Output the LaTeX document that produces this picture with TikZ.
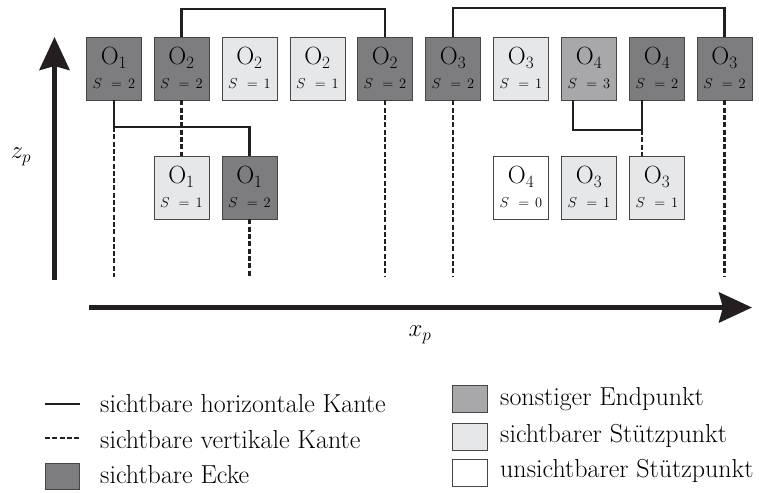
\documentclass[tikz,border=0pt]{standalone}
\usetikzlibrary{arrows.meta,calc}
\definecolor{cdark}{RGB}{125,125,128}
\definecolor{cmid}{RGB}{168,168,170}
\definecolor{clight}{RGB}{230,231,233}
\definecolor{cline}{RGB}{35,31,32}
\definecolor{cborder}{RGB}{70,70,72}
\tikzset{
 obox/.style={draw=cborder, line width=0.9pt, minimum width=55pt, minimum height=63pt, inner sep=0pt},
 dk/.style={obox, fill=cdark},
 md/.style={obox, fill=cmid},
 lt/.style={obox, fill=clight},
 wt/.style={obox, fill=white},
 legbox/.style={draw=cborder, line width=0.9pt, minimum width=35pt, minimum height=27pt, inner sep=0pt},
 hedge/.style={draw=cline, line width=2.6pt},
 vedge/.style={draw=cline, line width=2.6pt, dash pattern=on 5pt off 2.3pt},
 axis/.style={draw=cline, line width=5pt, -{Stealth[length=33pt,width=30pt,inset=4pt]}},
 lbl/.style={font=\fontsize{26}{26}\selectfont, anchor=base west, inner sep=0pt},
 axlbl/.style={font=\fontsize{24}{24}\selectfont, inner sep=0pt},
}
\newcommand{\obj}[2]{\vbox to 63pt{\offinterlineskip
 \vskip 27.5pt
 \hbox to 55pt{\hss\smash{\fontsize{25}{25}\selectfont$\mathrm{O}_{#1}$}\hss}%
 \vskip 24pt
 \hbox to 55pt{\hss\smash{\fontsize{13.5}{14}\selectfont$S$\hspace{9pt}$=$\hspace{6pt}$#2$}\hss}%
 \vss}}
\begin{document}
\begin{tikzpicture}[x=1pt,y=-1pt]
\useasboundingbox (0,0) rectangle (759,492);
% top row
\node[dk] (t1) at (114,68.5) {\obj{1}{2}};
\node[dk] (t2) at (181.5,68.5) {\obj{2}{2}};
\node[lt] (t3) at (249.5,68.5) {\obj{2}{1}};
\node[lt] (t4) at (317.5,68.5) {\obj{2}{1}};
\node[dk] (t5) at (385,68.5) {\obj{2}{2}};
\node[dk] (t6) at (453,68.5) {\obj{3}{2}};
\node[lt] (t7) at (521,68.5) {\obj{3}{1}};
\node[md] (t8) at (589,68.5) {\obj{4}{3}};
\node[dk] (t9) at (657,68.5) {\obj{4}{2}};
\node[dk] (t10) at (724.5,68.5) {\obj{3}{2}};
% bottom row
\node[lt] (b2) at (181.5,187.5) {\obj{1}{1}};
\node[dk] (b3) at (249.5,187.5) {\obj{1}{2}};
\node[wt] (b7) at (521,187.5) {\obj{4}{0}};
\node[lt] (b8) at (589,187.5) {\obj{3}{1}};
\node[lt] (b9) at (657,187.5) {\obj{3}{1}};
% helper coordinates
\coordinate (h1) at (250,9);
\coordinate (h2) at (590,8);
\coordinate (k1) at (180,127);
\coordinate (q) at (600,130);
\coordinate (base) at (400,277);
\coordinate (p8) at ($(t8.south)+(-16,0)$);
\coordinate (p9) at ($(t9.south)+(-15,0)$);
% horizontal edges
\draw[hedge] (t2.north) |- (h1) -| (t5.north);
\draw[hedge] (t6.north) |- (h2) -| (t10.north);
\draw[hedge] (t1.south) |- (k1) -| (b3.north);
\draw[hedge] (p8) -- (p8 |- q) -- (p9 |- q) -- (p9);
% vertical edges
\draw[vedge] (t1.south |- k1) -- (t1.south |- base);
\draw[vedge] (t2.south) -- (b2.north);
\draw[vedge] (b3.south) -- (b3.south |- base);
\draw[vedge] (t5.south) -- (t5.south |- base);
\draw[vedge] (t6.south) -- (t6.south |- base);
\draw[vedge] (p9 |- q) -- (p9 |- b9.north);
\draw[vedge] (t10.south) -- (t10.south |- base);
% axes
\coordinate (ay0) at (54.5,280);
\coordinate (ay1) at (54.5,37);
\coordinate (ax0) at (89,307.5);
\coordinate (ax1) at (752,307.5);
\draw[axis] (ay0) -- (ay1);
\draw[axis] (ax0) -- (ax1);
\node[axlbl] (zl) at (21,157) {$z_p$};
\node[axlbl] (xl) at (420,335) {$x_p$};
% legend
\coordinate (la1) at (45,404);
\coordinate (lb1) at (80,404);
\coordinate (la2) at (45,438);
\coordinate (lb2) at (80,438);
\draw[hedge, line width=2.4pt] (la1) -- (lb1);
\draw[vedge, line width=2.4pt] (la2) -- (lb2);
\node[legbox, fill=cdark, minimum width=34pt, minimum height=26pt] (lg1) at (62,476) {};
\node[lbl] (lt1) at (100,412.5) {sichtbare horizontale Kante};
\node[lbl] (lt2) at (100,448) {sichtbare vertikale Kante};
\node[lbl] (lt3) at (100,483) {sichtbare Ecke};
\node[legbox, fill=cmid] (lg2) at (470,399) {};
\node[legbox, fill=clight] (lg3) at (470,437) {};
\node[legbox, fill=white] (lg4) at (470,473) {};
\node[lbl] (lt4) at (500,405) {sonstiger Endpunkt};
\node[lbl] (lt5) at (500,442) {sichtbarer Stützpunkt};
\node[lbl] (lt6) at (500,477) {unsichtbarer Stützpunkt};
\end{tikzpicture}
\end{document}
